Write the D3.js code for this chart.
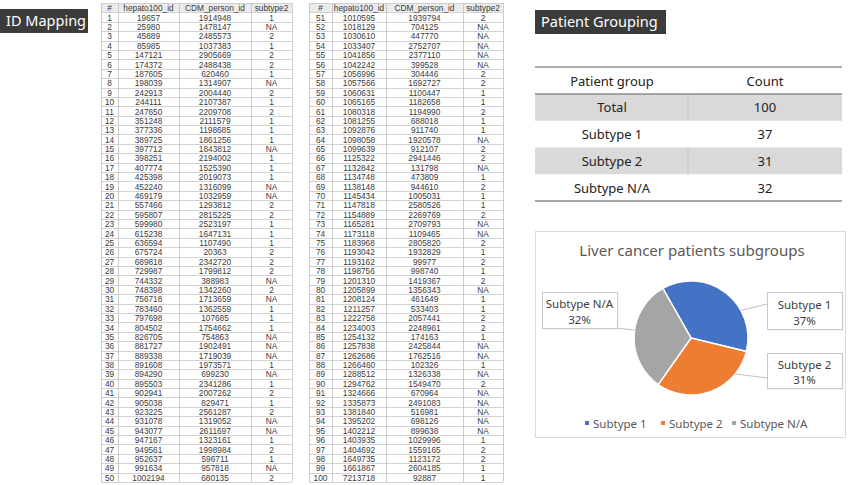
<!DOCTYPE html>
<html><head><meta charset="utf-8">
<script src="https://cdn.jsdelivr.net/npm/d3@7/dist/d3.min.js"></script>
<style>body{margin:0;background:#fff}svg{display:block}</style>
</head><body>
<svg id="c" width="850" height="485"></svg>
<script>
// ---------- DATA ----------
const tableHeaders = ["#", "hepato100_id", "CDM_person_id", "subtype2"];
const rowNumbers = d3.range(1, 101);
const hepatoIds = [19657,25980,45889,85985,147121,174372,187605,198039,242913,244111,247650,351248,377336,389725,397712,398251,407774,425398,452240,469179,557466,595807,599980,615238,636594,675724,689818,729987,744332,748398,756718,783460,797698,804502,826705,881727,889338,891608,894290,895503,902941,905038,923225,931078,943077,947167,949561,952637,991634,1002194,
1010595,1018129,1030610,1033407,1041856,1042242,1056996,1057566,1060631,1065165,1080318,1081255,1092876,1098058,1099639,1125322,1132842,1134748,1138148,1145434,1147818,1154889,1165281,1173118,1183968,1193042,1193162,1198756,1201310,1205899,1208124,1211257,1222758,1234003,1254132,1257838,1262686,1266460,1288512,1294762,1324666,1335873,1381840,1395202,1402212,1403935,1404692,1649735,1661867,7213718];
const cdmPersonIds = [1914948,1478147,2485573,1037383,2905669,2488438,620460,1314907,2004440,2107387,2209708,2111579,1198685,1861256,1843812,2194002,1525390,2019073,1316099,1032959,1293812,2815225,2523197,1647131,1107490,20363,2342720,1799812,388983,1342260,1713659,1362559,107685,1754662,754863,1902491,1719039,1973571,699230,2341286,2007262,829471,2561287,1319052,2611697,1323161,1998984,596711,957818,680135,
1939794,704125,447770,2752707,2377110,399528,304446,1692727,1100447,1182658,1194990,688018,911740,1920578,912107,2941446,131798,473809,944610,1005031,2580526,2269769,2709793,1109465,2805820,1932829,99977,998740,1419367,1356343,461649,533403,2057441,2248961,174163,2425844,1762516,102326,1326338,1549470,670964,2491083,516981,698126,899638,1029996,1559165,1123172,2604185,92887];
const subtypes = ["1","NA","2","1","2","2","1","NA","2","1","2","1","1","1","NA","1","1","1","NA","NA","2","2","1","1","1","2","2","2","NA","2","NA","1","1","1","NA","NA","NA","1","NA","1","2","1","2","NA","NA","1","2","1","NA","2",
"2","NA","NA","NA","NA","NA","2","2","1","1","2","1","1","NA","2","2","NA","1","2","1","1","2","NA","NA","2","1","2","1","2","NA","1","1","2","2","1","NA","NA","1","NA","2","NA","NA","NA","NA","NA","1","2","2","1","1"];

const groupHeaders = ["Patient group", "Count"];
const groupNames = ["Total", "Subtype 1", "Subtype 2", "Subtype N/A"];
const groupCounts = [100, 37, 31, 32];

const pieTitle = "Liver cancer patients subgroups";
const pieLabels = ["Subtype 1", "Subtype 2", "Subtype N/A"];
const pieValues = [37, 31, 32];
const pieColors = ["#4472C4", "#ED7D31", "#A5A5A5"];

// ---------- DRAW ----------
const svg = d3.select("#c");
const FONT = "'Noto Sans', 'Open Sans', sans-serif";

// section label boxes
function labelBox(x, y, w, h, text, fs) {
  svg.append("rect").attr("x", x).attr("y", y).attr("width", w).attr("height", h).attr("fill", "#3b3b3b");
  svg.append("text").attr("x", x + 6).attr("y", y + h / 2 + 1).attr("dominant-baseline", "middle")
    .attr("fill", "#fff").attr("font-family", FONT).attr("font-size", fs).text(text);
}
labelBox(0, 9, 88, 24, "ID Mapping", 14.5);
labelBox(535, 10, 131, 24, "Patient Grouping", 14.5);

// ID tables
function drawTable(edges, start, count) {
  const g = svg.append("g");
  const rows = d3.range(count + 1);
  const y = d3.scaleBand().domain(rows).range([3, 482]);
  const x0 = edges[0], x1 = edges[edges.length - 1];
  g.append("rect").attr("x", x0).attr("y", y(0)).attr("width", x1 - x0).attr("height", y.bandwidth()).attr("fill", "#ebebeb");
  // horizontal lines
  g.selectAll("line.h").data(d3.range(count + 2)).join("line")
    .attr("x1", x0).attr("x2", x1)
    .attr("y1", i => Math.round(3 + i * y.step()) + 0.5).attr("y2", i => Math.round(3 + i * y.step()) + 0.5)
    .attr("stroke", "#c8c8c8").attr("stroke-width", 0.8);
  g.selectAll("line.v").data(edges).join("line")
    .attr("x1", d => d + 0.5).attr("x2", d => d + 0.5).attr("y1", 3).attr("y2", 482)
    .attr("stroke", "#c0c0c0").attr("stroke-width", 0.8);
  const cx = i => (edges[i] + edges[i + 1]) / 2;
  const txt = (xx, yy, t) => g.append("text").attr("x", xx).attr("y", yy).attr("text-anchor", "middle")
    .attr("dominant-baseline", "central").attr("font-family", "'Liberation Sans', Arial, sans-serif")
    .attr("font-size", 8.3).attr("fill", "#3a3a3a").text(t);
  tableHeaders.forEach((h, i) => txt(cx(i), y(0) + y.bandwidth() / 2 + 0.5, h));
  for (let r = 0; r < count; r++) {
    const k = start + r;
    const yy = y(r + 1) + y.bandwidth() / 2 + 0.5;
    txt(cx(0), yy, rowNumbers[k]);
    txt(cx(1), yy, hepatoIds[k]);
    txt(cx(2), yy, cdmPersonIds[k]);
    txt(cx(3), yy, subtypes[k]);
  }
}
drawTable([101, 118, 179, 251, 292], 0, 50);
drawTable([309, 332, 386, 463, 503], 50, 50);

// Patient grouping table
(function () {
  const g = svg.append("g");
  const x0 = 535, x1 = 842, mid = 688;
  const yH = 67, hH = 27;
  const y = d3.scaleBand().domain(groupNames).range([94, 201]);
  groupNames.forEach((n, i) => {
    if (i % 2 === 0) g.append("rect").attr("x", x0).attr("y", y(n)).attr("width", x1 - x0).attr("height", y.bandwidth()).attr("fill", "#d9d9d9");
  });
  groupNames.forEach((n, i) => {
    if (i % 2 === 0) g.append("line").attr("x1", mid).attr("x2", mid).attr("y1", y(n)).attr("y2", y(n) + y.bandwidth()).attr("stroke", "#c4c4c4").attr("stroke-width", 1);
  });
  g.append("line").attr("x1", x0).attr("x2", x1).attr("y1", yH).attr("y2", yH).attr("stroke", "#595959").attr("stroke-width", 1.2);
  g.append("line").attr("x1", x0).attr("x2", x1).attr("y1", 94).attr("y2", 94).attr("stroke", "#8c8c8c").attr("stroke-width", 1.5);
  g.append("line").attr("x1", x0).attr("x2", x1).attr("y1", 201).attr("y2", 201).attr("stroke", "#a6a6a6").attr("stroke-width", 2);
  const c1 = 612, c2 = 765;
  const t = (xx, yy, s) => g.append("text").attr("x", xx).attr("y", yy).attr("text-anchor", "middle").attr("dominant-baseline", "central")
    .attr("font-family", FONT).attr("font-size", 13).attr("fill", "#222").text(s);
  t(c1, yH + hH / 2, groupHeaders[0]);
  t(c2, yH + hH / 2, groupHeaders[1]);
  groupNames.forEach((n, i) => {
    t(c1, y(n) + y.bandwidth() / 2, n);
    t(c2, y(n) + y.bandwidth() / 2, groupCounts[i]);
  });
})();

// Pie chart
(function () {
  const g = svg.append("g");
  g.append("rect").attr("x", 535.5).attr("y", 231.5).attr("width", 310).attr("height", 206).attr("fill", "#fff").attr("stroke", "#d9d9d9");
  g.append("text").attr("x", 692).attr("y", 250).attr("text-anchor", "middle").attr("dominant-baseline", "central")
    .attr("font-family", FONT).attr("font-size", 15).attr("fill", "#595959").text(pieTitle);
  const cx = 691, cy = 338, R = 57;
  const a0 = -29.6 * Math.PI / 180;
  const pie = d3.pie().sort(null).startAngle(a0).endAngle(a0 + 2 * Math.PI);
  const arc = d3.arc().innerRadius(0).outerRadius(R);
  const arcs = pie(pieValues);
  const pg = g.append("g").attr("transform", `translate(${cx},${cy})`);
  pg.selectAll("path").data(arcs).join("path").attr("d", arc)
    .attr("fill", (d, i) => pieColors[i]).attr("stroke", "#fff").attr("stroke-width", 1.5);

  const total = d3.sum(pieValues);
  const fmt = d3.format(".0%");
  // callouts: box layout and leader angle (deg, clockwise from north)
  const callouts = [
    { x: 767, y: 292, w: 75, h: 37, ang: 61 },
    { x: 767, y: 353, w: 75, h: 35, ang: 129 },
    { x: 542, y: 292, w: 75, h: 36, ang: 278 }
  ];
  const leaderStart = [[767, 304], [767, 378], [606, 327]];
  callouts.forEach((c, i) => {
    const a = c.ang * Math.PI / 180;
    const px = cx + R * Math.sin(a), py = cy - R * Math.cos(a);
    g.append("line").attr("x1", leaderStart[i][0]).attr("y1", leaderStart[i][1]).attr("x2", px).attr("y2", py)
      .attr("stroke", "#bfbfbf").attr("stroke-width", 1);
    g.append("rect").attr("x", c.x + 1.5).attr("y", c.y + 1.5).attr("width", c.w).attr("height", c.h).attr("fill", "#f0f0f0");
    g.append("rect").attr("x", c.x + 0.5).attr("y", c.y + 0.5).attr("width", c.w).attr("height", c.h)
      .attr("fill", "#fff").attr("stroke", "#c8c8c8").attr("stroke-width", 1);
    const tx = c.x + c.w / 2;
    g.append("text").attr("x", tx).attr("y", c.y + c.h * 0.33).attr("text-anchor", "middle").attr("dominant-baseline", "central")
      .attr("font-family", FONT).attr("font-size", 11.5).attr("fill", "#404040").text(pieLabels[i]);
    g.append("text").attr("x", tx).attr("y", c.y + c.h * 0.76).attr("text-anchor", "middle").attr("dominant-baseline", "central")
      .attr("font-family", FONT).attr("font-size", 11.5).attr("fill", "#404040").text(fmt(pieValues[i] / total));
  });

  // legend
  const legX = [585, 661, 732];
  pieLabels.forEach((l, i) => {
    g.append("rect").attr("x", legX[i]).attr("y", 421).attr("width", 4).attr("height", 4).attr("fill", pieColors[i]);
    g.append("text").attr("x", legX[i] + 8).attr("y", 423).attr("dominant-baseline", "central")
      .attr("font-family", FONT).attr("font-size", 11.5).attr("fill", "#595959").text(l);
  });
})();
</script>
</body></html>
